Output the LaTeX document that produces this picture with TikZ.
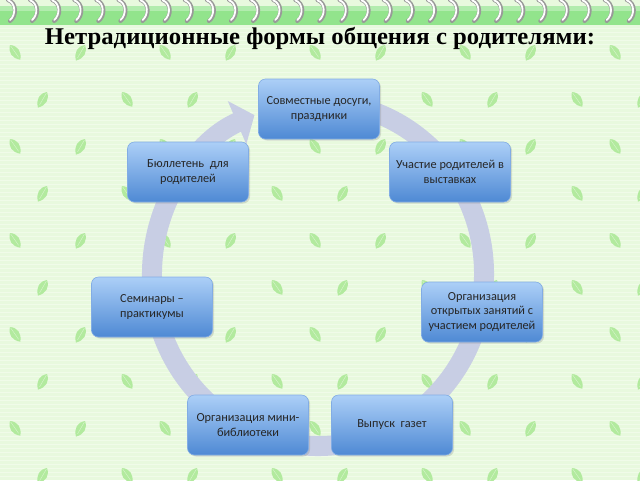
\documentclass[tikz,border=0pt]{standalone}
\usepackage{fontspec}
\setmainfont{Liberation Serif}
\newfontfamily\boxfont{Carlito}
\usetikzlibrary{arrows.meta,shadows}
\definecolor{bgc}{RGB}{232,249,222}
\definecolor{stripc}{RGB}{146,228,140}
\definecolor{leafc}{RGB}{178,234,158}
\definecolor{ringc}{RGB}{200,206,228}
\definecolor{boxtop}{RGB}{172,207,247}
\definecolor{boxbot}{RGB}{78,137,212}
\definecolor{boxedge}{RGB}{130,172,228}
\tikzset{
  leaf/.pic={\fill[leafc] (0,0) .. controls (5,-6) and (12,-6) .. (18,0) .. controls (12,6) and (5,6) .. (0,0);
             \draw[white,opacity=0.5,line width=0.4] (1,0) -- (15,0);},
  formbox/.style={rounded corners=7, minimum width=121, minimum height=60,
    top color=boxtop, bottom color=boxbot, draw=boxedge, line width=0.6,
    align=center, font=\boxfont\fontsize{12.3}{14.5}\selectfont, text=black!85,
    drop shadow={shadow xshift=1.5pt, shadow yshift=-1.5pt, opacity=0.25}},
}
\begin{document}
\begin{tikzpicture}[x=1pt,y=-1pt]
\useasboundingbox (0,0) rectangle (640,480);
% background
\fill[bgc] (0,0) rectangle (640,480);
\foreach \yy in {24,28,...,480} {\draw[white,opacity=0.35,line width=0.8] (0,\yy) -- (640,\yy);}
% leaves
\foreach \j in {0,...,9} {
  \foreach \i in {0,...,8} {
    \pgfmathsetmacro{\xx}{10+75*\i+mod(\j,2)*37}
    \pgfmathsetmacro{\yyy}{45+47*\j}
    \pgfmathsetmacro{\rr}{mod(\i+\j,2)==0 ? -55 : -120}
    \pic[rotate=\rr] at (\xx,\yyy) {leaf};
  }
}
% spiral strip
\fill[stripc] (0,6) rectangle (640,25);
\fill[white,opacity=0.3] (0,6) rectangle (640,11);
\foreach \i in {0,...,28} {
  \pgfmathsetmacro{\xx}{9+22.1*\i}
  \fill[black!60] (\xx+1,21) circle (1.8);
  \draw[black!40,line width=4,line cap=round] (\xx-1,0) .. controls (\xx+8,3) and (\xx+8,16) .. (\xx+1,21);
  \draw[white,line width=1.8,line cap=round] (\xx-1,0.3) .. controls (\xx+7,3) and (\xx+7,15) .. (\xx+1,20);
}
% title
\node (title) at (320,38) {\scalebox{1.03}[1]{\fontsize{24}{28}\selectfont\bfseries Нетрадиционные формы общения с родителями:}};
% ring arrow
\draw[ringc,line width=20,-{Triangle[length=19pt 0,width=46pt 0]}]
  (318,274) ++(-80:166 and 172) arc[start angle=-80,end angle=247.5,x radius=166,y radius=172];
% boxes
\node[formbox] (b1) at (319,109) {Совместные досуги,\\праздники};
\node[formbox] (b2) at (188,172) {Бюллетень\ \ для\\родителей};
\node[formbox] (b3) at (450,172) {Участие родителей в\\выставках};
\node[formbox] (b4) at (152,307) {Семинары –\\практикумы};
\node[formbox] (b5) at (482,312) {Организация\\открытых занятий с\\участием родителей};
\node[formbox] (b6) at (248,425) {Организация мини-\\библиотеки};
\node[formbox] (b7) at (392,425) {Выпуск\ \ газет};
\end{tikzpicture}
\end{document}
